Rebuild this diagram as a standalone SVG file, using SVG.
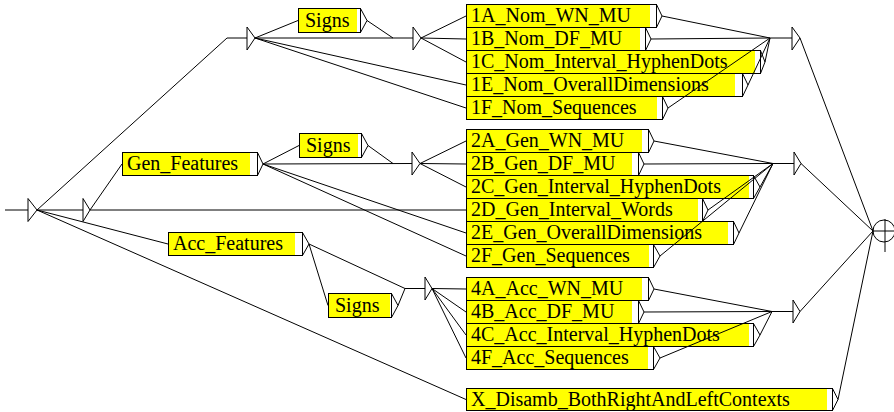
<svg xmlns="http://www.w3.org/2000/svg" width="894" height="412" viewBox="0 0 894 412">
<style>
.frame{fill:#fff;stroke:#000;stroke-width:1}
.fill{fill:#ffff00}
.tri{fill:none;stroke:#000;stroke-width:1;stroke-linejoin:miter}
.edge{fill:none;stroke:#000;stroke-width:1}
</style>
<rect width="894" height="412" fill="#fff"/>

<g id="initial">
<line class="tri" x1="5" y1="210" x2="28" y2="210"/>
<path class="tri" d="M28,198.5 L37,210 L28,221.5 Z"/>
</g>

<g id="e1"><path class="tri" d="M247,27 L255,38 L247,50 Z"/></g>
<g id="e2"><path class="tri" d="M83,198.5 L90,210 L83,221.5 Z"/></g>
<g id="e3"><path class="tri" d="M413,27 L421,38 L413,50 Z"/></g>
<g id="e4"><path class="tri" d="M792,27 L800,38 L792,50 Z"/></g>
<g id="e5"><path class="tri" d="M412,152 L420,163.5 L412,175 Z"/></g>
<g id="e6"><path class="tri" d="M794,152 L801,163.5 L794,175 Z"/></g>
<g id="e7"><path class="tri" d="M425,277 L432,288.5 L425,300 Z"/></g>
<g id="e8"><path class="tri" d="M793,300 L800,311.5 L793,323 Z"/></g>

<g font-family="'Liberation Serif', 'Times New Roman', serif" font-size="20" fill="#000">
<g id="signs1"><rect class="frame" x="298.5" y="8.5" width="62" height="24"/><rect class="fill" x="299" y="9" width="58" height="23"/><path class="tri" d="M360.5,8.5 L367,20.5 L360.5,32.5"/><text x="305" y="27">Signs</text></g>
<g id="signs2"><rect class="frame" x="299.5" y="133.5" width="62" height="24"/><rect class="fill" x="300" y="134" width="58" height="23"/><path class="tri" d="M361.5,133.5 L368,145.5 L361.5,157.5"/><text x="306" y="152">Signs</text></g>
<g id="signs3"><rect class="frame" x="328.5" y="293.5" width="63" height="24"/><rect class="fill" x="329" y="294" width="61" height="23"/><path class="tri" d="M391.5,293.5 L398,305.5 L391.5,317.5"/><text x="335" y="312">Signs</text></g>
<g id="genFeatures"><rect class="frame" x="122.5" y="152.5" width="135" height="23"/><rect class="fill" x="123" y="153" width="127" height="22"/><path class="tri" d="M257.5,152.5 L263,164 L257.5,175.5"/><text x="127" y="170">Gen_Features</text></g>
<g id="accFeatures"><rect class="frame" x="168.5" y="232.5" width="134" height="23"/><rect class="fill" x="169" y="233" width="126" height="22"/><path class="tri" d="M302.5,232.5 L309,244 L302.5,255.5"/><text x="173" y="250">Acc_Features</text></g>

<g id="n1A"><rect class="frame" x="466.5" y="4.5" width="190" height="23"/><rect class="fill" x="467" y="5" width="183" height="22"/><path class="tri" d="M656.5,4.5 L662,16 L656.5,27.5"/><text x="471" y="22">1A_Nom_WN_MU</text></g>
<g id="n1B"><rect class="frame" x="466.5" y="27.5" width="179" height="23"/><rect class="fill" x="467" y="28" width="173" height="22"/><path class="tri" d="M645.5,27.5 L651,39 L645.5,50.5"/><text x="471" y="45">1B_Nom_DF_MU</text></g>
<g id="n1C"><rect class="frame" x="466.5" y="50.5" width="294" height="23"/><rect class="fill" x="467" y="51" width="288" height="22"/><path class="tri" d="M760.5,50.5 L765,62 L760.5,73.5"/><text x="471" y="68">1C_Nom_Interval_HyphenDots</text></g>
<g id="n1E"><rect class="frame" x="466.5" y="73.5" width="276" height="23"/><rect class="fill" x="467" y="74" width="268" height="22"/><path class="tri" d="M742.5,73.5 L748,85 L742.5,96.5"/><text x="471" y="91">1E_Nom_OverallDimensions</text></g>
<g id="n1F"><rect class="frame" x="466.5" y="96.5" width="196" height="23"/><rect class="fill" x="467" y="97" width="190" height="22"/><path class="tri" d="M662.5,96.5 L668,108 L662.5,119.5"/><text x="471" y="114">1F_Nom_Sequences</text></g>

<g id="n2A"><rect class="frame" x="466.5" y="129.5" width="182" height="23"/><rect class="fill" x="467" y="130" width="175" height="22"/><path class="tri" d="M648.5,129.5 L654,141 L648.5,152.5"/><text x="471" y="147">2A_Gen_WN_MU</text></g>
<g id="n2B"><rect class="frame" x="466.5" y="152.5" width="172" height="23"/><rect class="fill" x="467" y="153" width="165" height="22"/><path class="tri" d="M638.5,152.5 L644,164 L638.5,175.5"/><text x="471" y="170">2B_Gen_DF_MU</text></g>
<g id="n2C"><rect class="frame" x="466.5" y="175.5" width="287" height="23"/><rect class="fill" x="467" y="176" width="282" height="22"/><path class="tri" d="M753.5,175.5 L760,187 L753.5,198.5"/><text x="471" y="193">2C_Gen_Interval_HyphenDots</text></g>
<g id="n2D"><rect class="frame" x="466.5" y="198.5" width="236" height="23"/><rect class="fill" x="467" y="199" width="231" height="22"/><path class="tri" d="M702.5,198.5 L708,210 L702.5,221.5"/><text x="471" y="216">2D_Gen_Interval_Words</text></g>
<g id="n2E"><rect class="frame" x="466.5" y="221.5" width="267" height="23"/><rect class="fill" x="467" y="222" width="261" height="22"/><path class="tri" d="M733.5,221.5 L739,233 L733.5,244.5"/><text x="471" y="239">2E_Gen_OverallDimensions</text></g>
<g id="n2F"><rect class="frame" x="466.5" y="244.5" width="187" height="23"/><rect class="fill" x="467" y="245" width="182" height="22"/><path class="tri" d="M653.5,244.5 L660,256 L653.5,267.5"/><text x="471" y="262">2F_Gen_Sequences</text></g>

<g id="n4A"><rect class="frame" x="466.5" y="277.5" width="182" height="23"/><rect class="fill" x="467" y="278" width="175" height="22"/><path class="tri" d="M648.5,277.5 L654,289 L648.5,300.5"/><text x="471" y="295">4A_Acc_WN_MU</text></g>
<g id="n4B"><rect class="frame" x="466.5" y="300.5" width="172" height="23"/><rect class="fill" x="467" y="301" width="165" height="22"/><path class="tri" d="M638.5,300.5 L644,312 L638.5,323.5"/><text x="471" y="318">4B_Acc_DF_MU</text></g>
<g id="n4C"><rect class="frame" x="466.5" y="323.5" width="287" height="23"/><rect class="fill" x="467" y="324" width="282" height="22"/><path class="tri" d="M753.5,323.5 L760,335 L753.5,346.5"/><text x="471" y="341">4C_Acc_Interval_HyphenDots</text></g>
<g id="n4F"><rect class="frame" x="466.5" y="346.5" width="187" height="23"/><rect class="fill" x="467" y="347" width="181" height="22"/><path class="tri" d="M653.5,346.5 L660,358 L653.5,369.5"/><text x="471" y="364">4F_Acc_Sequences</text></g>

<g id="nX"><rect class="frame" x="466.5" y="388.5" width="366" height="22"/><rect class="fill" x="467" y="389" width="360" height="21"/><path class="tri" d="M832.5,388.5 L838,399.5 L832.5,410.5"/><text x="471" y="406">X_Disamb_BothRightAndLeftContexts</text></g>
</g>

<g id="final">
<circle class="tri" cx="884" cy="231" r="11"/>
<line class="tri" x1="873" y1="231" x2="894" y2="231"/>
<line class="tri" x1="885" y1="219" x2="885" y2="252"/>
</g>

<g id="connectors" class="edge">
<polyline points="37,210 227,38 247,38"/>
<line x1="37" y1="210" x2="83" y2="210"/>
<line x1="37" y1="210" x2="168" y2="244"/>
<line x1="37" y1="210" x2="466" y2="399.5"/>
<line x1="255" y1="38" x2="298" y2="20.5"/>
<line x1="255" y1="38" x2="413" y2="38"/>
<line x1="255" y1="38" x2="466" y2="85"/>
<line x1="255" y1="38" x2="466" y2="108"/>
<line x1="367" y1="20.5" x2="393" y2="38"/>
<line x1="421" y1="38" x2="466" y2="16"/>
<line x1="421" y1="38" x2="466" y2="39"/>
<line x1="421" y1="38" x2="466" y2="62"/>
<line x1="662" y1="16" x2="770" y2="38"/>
<line x1="651" y1="39" x2="770" y2="38"/>
<line x1="765" y1="62" x2="770" y2="38"/>
<line x1="748" y1="85" x2="770" y2="38"/>
<line x1="668" y1="108" x2="770" y2="38"/>
<line x1="770" y1="38" x2="792" y2="38"/>
<line x1="800" y1="38" x2="873" y2="231"/>
<line x1="90" y1="210" x2="122" y2="164"/>
<line x1="90" y1="210" x2="466" y2="210"/>
<line x1="263" y1="164" x2="299" y2="145.5"/>
<line x1="263" y1="164" x2="412" y2="163.5"/>
<line x1="263" y1="164" x2="466" y2="233"/>
<line x1="263" y1="164" x2="466" y2="256"/>
<line x1="368" y1="145.5" x2="393" y2="163.5"/>
<line x1="420" y1="163.5" x2="466" y2="141"/>
<line x1="420" y1="163.5" x2="466" y2="164"/>
<line x1="420" y1="163.5" x2="466" y2="187"/>
<line x1="654" y1="141" x2="773" y2="163.5"/>
<line x1="644" y1="164" x2="773" y2="163.5"/>
<line x1="760" y1="187" x2="773" y2="163.5"/>
<line x1="708" y1="210" x2="773" y2="163.5"/>
<line x1="739" y1="233" x2="773" y2="163.5"/>
<line x1="660" y1="256" x2="773" y2="163.5"/>
<line x1="773" y1="163.5" x2="794" y2="163.5"/>
<line x1="801" y1="163.5" x2="873" y2="231"/>
<line x1="309" y1="244" x2="328" y2="305.5"/>
<line x1="309" y1="244" x2="405" y2="288.5"/>
<line x1="398" y1="305.5" x2="405" y2="288.5"/>
<line x1="405" y1="288.5" x2="425" y2="288.5"/>
<line x1="432" y1="288.5" x2="466" y2="289"/>
<line x1="432" y1="288.5" x2="466" y2="312"/>
<line x1="432" y1="288.5" x2="466" y2="335"/>
<line x1="432" y1="288.5" x2="466" y2="358"/>
<line x1="654" y1="289" x2="772" y2="311.5"/>
<line x1="644" y1="312" x2="772" y2="311.5"/>
<line x1="760" y1="335" x2="772" y2="311.5"/>
<line x1="660" y1="358" x2="772" y2="311.5"/>
<line x1="772" y1="311.5" x2="793" y2="311.5"/>
<line x1="800" y1="311.5" x2="873" y2="231"/>
<line x1="838" y1="399.5" x2="873" y2="231"/>
</g>
</svg>
